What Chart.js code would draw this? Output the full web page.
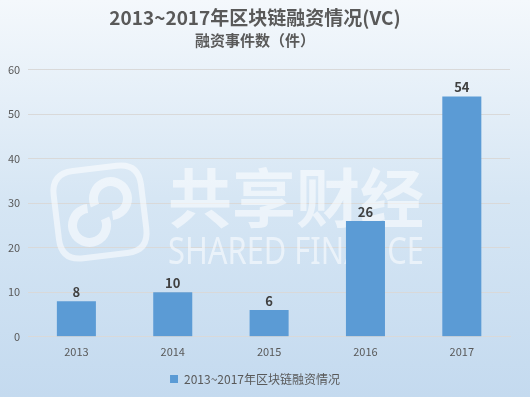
<!DOCTYPE html>
<html>
<head>
<meta charset="utf-8">
<script src="https://cdn.jsdelivr.net/npm/chart.js@4/dist/chart.umd.min.js"></script>
<style>
html,body{margin:0;padding:0;background:#fff;}
#wrap{width:530px;height:397px;position:relative;}
</style>
</head>
<body>
<div id="wrap"><canvas id="c" width="530" height="397"></canvas></div>
<script>
const categories = ['2013', '2014', '2015', '2016', '2017'];
const seriesName = '2013~2017年区块链融资情况';
const values = [8, 10, 6, 26, 54];
const yTicks = [0, 10, 20, 30, 40, 50, 60];
const titleText = '2013~2017年区块链融资情况(VC)';
const subtitleText = '融资事件数（件）';

const CJK = '"Noto Sans CJK SC", "Noto Sans", sans-serif';

const bgPlugin = {
  id: 'bg',
  beforeDraw(chart) {
    const ctx = chart.ctx;
    const g = ctx.createLinearGradient(0, 0, 0, chart.height);
    g.addColorStop(0, '#f4f8fc');
    g.addColorStop(0.5, '#d6e6f4');
    g.addColorStop(1, '#c4daef');
    ctx.save();
    ctx.fillStyle = g;
    ctx.fillRect(0, 0, chart.width, chart.height);
    ctx.restore();
  }
};

const watermarkPlugin = {
  id: 'watermark',
  beforeDatasetsDraw(chart) {
    const ctx = chart.ctx;
    ctx.save();
    ctx.strokeStyle = 'rgba(255,255,255,0.55)';
    ctx.fillStyle = 'rgba(255,255,255,0.55)';
    ctx.lineWidth = 6;
    ctx.translate(100, 212);
    ctx.rotate(-0.12);
    const s = 44, r = 22;
    ctx.beginPath();
    ctx.moveTo(-s + r, -s);
    ctx.lineTo(s - r, -s);
    ctx.quadraticCurveTo(s, -s, s, -s + r);
    ctx.lineTo(s, s - r);
    ctx.quadraticCurveTo(s, s, s - r, s);
    ctx.lineTo(-s + r, s);
    ctx.quadraticCurveTo(-s, s, -s, s - r);
    ctx.lineTo(-s, -s + r);
    ctx.quadraticCurveTo(-s, -s, -s + r, -s);
    ctx.stroke();
    ctx.lineWidth = 9;
    ctx.beginPath();
    ctx.arc(-12, 12, 17, -0.3, Math.PI * 1.5, false);
    ctx.stroke();
    ctx.beginPath();
    ctx.arc(12, -12, 17, Math.PI - 0.3, Math.PI * 2.5, false);
    ctx.stroke();
    ctx.setTransform(1, 0, 0, 1, 0, 0);
    ctx.textAlign = 'left';
    ctx.textBaseline = 'alphabetic';
    ctx.font = 'bold 64px "Noto Sans CJK SC", sans-serif';
    ctx.fillText('共享财经', 168, 222, 258);
    ctx.font = '38px "Liberation Sans Narrow", "Noto Sans", sans-serif';
    ctx.fillText('SHARED FINANCE', 168, 264, 256);
    ctx.restore();
  }
};

const labelPlugin = {
  id: 'valueLabels',
  afterDatasetsDraw(chart) {
    const ctx = chart.ctx;
    const meta = chart.getDatasetMeta(0);
    ctx.save();
    ctx.fillStyle = '#404040';
    ctx.font = 'bold 13px ' + CJK;
    ctx.textAlign = 'center';
    ctx.textBaseline = 'bottom';
    meta.data.forEach((bar, i) => {
      ctx.fillText(String(chart.data.datasets[0].data[i]), bar.x, bar.y - 3);
    });
    ctx.restore();
  }
};

new Chart(document.getElementById('c'), {
  type: 'bar',
  data: {
    labels: categories,
    datasets: [{
      label: seriesName,
      data: values,
      backgroundColor: '#5b9bd5',
      borderWidth: 0,
      categoryPercentage: 1.0,
      barPercentage: 0.405
    }]
  },
  options: {
    responsive: false,
    animation: false,
    devicePixelRatio: 1,
    layout: { padding: { left: 0, right: 20, top: 3, bottom: 2 } },
    plugins: {
      title: {
        display: true,
        text: titleText,
        color: '#595959',
        font: { family: CJK, size: 19, weight: 'bold' },
        padding: { top: 3, bottom: 0 }
      },
      subtitle: {
        display: true,
        text: subtitleText,
        color: '#595959',
        font: { family: CJK, size: 15, weight: 'bold' },
        padding: { top: 2, bottom: 21 }
      },
      legend: {
        display: true,
        position: 'bottom',
        labels: {
          boxWidth: 8,
          boxHeight: 8,
          color: '#595959',
          font: { family: CJK, size: 12 },
          padding: 7
        }
      },
      tooltip: { enabled: false }
    },
    scales: {
      x: {
        grid: { display: false, drawTicks: false },
        border: { display: true, color: '#d9d9d9', width: 1 },
        ticks: { color: '#595959', font: { family: CJK, size: 11 }, padding: 8 }
      },
      y: {
        min: 0,
        max: 60,
        afterBuildTicks(scale) { scale.ticks = yTicks.map(v => ({ value: v })); },
        grid: { color: '#d9d9d9', drawTicks: false },
        border: { display: false },
        ticks: { color: '#595959', font: { family: CJK, size: 11 }, padding: 8 }
      }
    }
  },
  plugins: [bgPlugin, watermarkPlugin, labelPlugin]
});
</script>
</body>
</html>
